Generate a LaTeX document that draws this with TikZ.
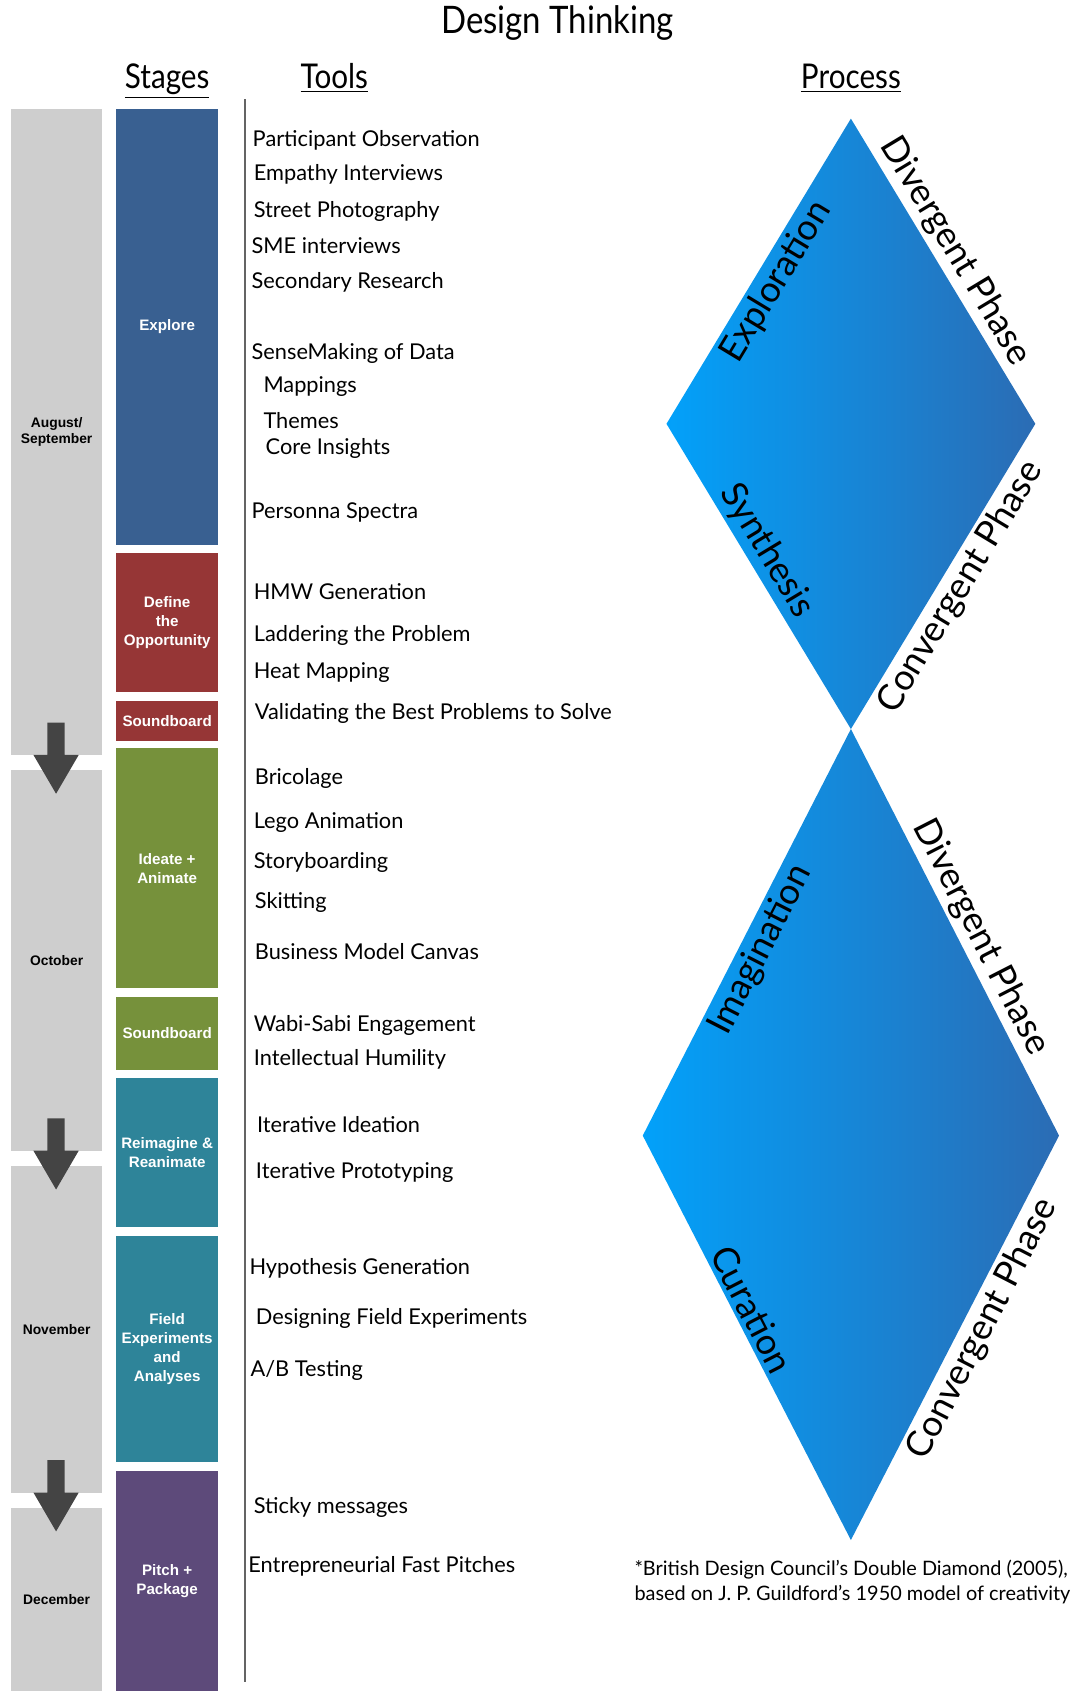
\documentclass[tikz,border=0pt]{standalone}
\usepackage{fontspec}
\setmainfont{Lato}
\newfontfamily\helv{Liberation Sans}
\usepackage{tikz}
\usetikzlibrary{positioning}

\definecolor{monthgray}{RGB}{206,206,206}
\definecolor{exploreblue}{RGB}{57,96,145}
\definecolor{definered}{RGB}{150,54,54}
\definecolor{ideategreen}{RGB}{118,145,59}
\definecolor{fieldteal}{RGB}{46,132,153}
\definecolor{pitchpurple}{RGB}{93,74,122}
\definecolor{arrowgray}{RGB}{68,68,68}
\definecolor{linegray}{RGB}{100,100,100}
\definecolor{diamondlight}{RGB}{2,161,250}
\definecolor{diamonddark}{RGB}{43,108,180}

\newcommand{\narrow}[1]{\scalebox{0.87}[1]{#1}}

\begin{document}
\begin{tikzpicture}
		[x=0.02cm, y=-0.02cm,
		month/.style={fill=monthgray, minimum width=1.7cm, inner sep=0pt, outer sep=0pt,
			align=center, font=\helv\bfseries\fontsize{7.3}{8.5}\selectfont},
		stage/.style={fill=#1, minimum width=1.88cm, inner sep=0pt, outer sep=0pt,
			align=center, text=white, font=\helv\bfseries\fontsize{8}{10.1}\selectfont},
		tool/.style={anchor=west, inner sep=0pt, yshift=-0.04cm, font=\fontsize{11.5}{13}\selectfont},
		header/.style={anchor=base, inner sep=0pt, font=\fontsize{18}{21}\selectfont},
		phase/.style={sloped, inner sep=2pt, font=\fontsize{19}{23}\selectfont},
		]
		\useasboundingbox (0,0) rectangle (995,1568);
		
		% titles
		\node[font=\fontsize{20}{24}\selectfont] (title) at (517,21) {\narrow{Design Thinking}};
		\node[header] (stages) at (155,82) {\narrow{\underline{Stages}}};
		\node[header] (tools) at (310,82) {\narrow{\underline{Tools}}};
		\node[header] (process) at (789,82) {\narrow{\underline{Process}}};
		
		% months
		\node[month, minimum height=11.98cm] (augsep) at (52.5,400.5) {August/\\September};
		\node[month, minimum height=7.06cm] (oct) at (52.5,890.5) {October};
		\node[month, minimum height=6.06cm] (nov) at (52.5,1232.5) {November};
		\node[month, minimum height=3.4cm] (dec) at (52.5,1483) {December};
		\foreach \yb in {700,1067,1384}
			\fill[arrowgray] (44,\yb-30) -- (60,\yb-30) -- (60,\yb) -- (73,\yb)
				-- (52,\yb+36) -- (31,\yb) -- (44,\yb) -- cycle;
		
		% stages
		\node[stage=exploreblue, minimum height=8.08cm] (explore) at (155,303) {Explore};
		\node[stage=definered, minimum height=2.58cm] (define) at (155,577.5) {Define\\the\\Opportunity};
		\node[stage=definered, minimum height=0.74cm] (sound1) at (155,668.5) {Soundboard};
		\node[stage=ideategreen, minimum height=4.44cm] (ideate) at (155,805) {Ideate +\\Animate};
		\node[stage=ideategreen, minimum height=1.36cm] (sound2) at (155,958) {Soundboard};
		\node[stage=fieldteal, minimum height=2.76cm] (reimagine) at (155,1069) {Reimagine \&\\Reanimate};
		\node[stage=fieldteal, minimum height=4.2cm] (field) at (155,1251) {Field\\Experiments\\and\\Analyses};
		\node[stage=pitchpurple, minimum height=4.08cm] (pitch) at (155,1466) {Pitch +\\Package};
		
		\draw[linegray, line width=0.9pt] (227,92) -- (227,1560);
		
		% tools
		\node[tool] (partobs) at (234,128) {Participant Observation};
		\node[tool] (empathy) at (235,160) {Empathy Interviews};
		\node[tool] (street) at (235,194) {Street Photography};
		\node[tool] (sme) at (233,226) {SME interviews};
		\node[tool] (secondary) at (233,260) {Secondary Research};
		\node[tool] (sensemaking) at (233,326) {SenseMaking of Data};
		\node[tool] (mappings) at (244,356) {Mappings};
		\node[tool] (themes) at (244,388) {Themes};
		\node[tool] (core) at (246,414) {Core Insights};
		\node[tool] (personna) at (233,473) {Personna Spectra};
		\node[tool] (hmw) at (235,547) {HMW Generation};
		\node[tool] (laddering) at (235,587) {Laddering the Problem};
		\node[tool] (heatmap) at (235,622) {Heat Mapping};
		\node[tool] (validating) at (236,660) {Validating the Best Problems to Solve};
		\node[tool] (bricolage) at (236,720) {Bricolage};
		\node[tool] (lego) at (235,761) {Lego Animation};
		\node[tool] (storyboard) at (235,798) {Storyboarding};
		\node[tool] (skitting) at (236,835) {Skitting};
		\node[tool] (bizmodel) at (236,880) {Business Model Canvas};
		\node[tool] (wabisabi) at (235,949) {Wabi-Sabi Engagement};
		\node[tool] (humility) at (235,980) {Intellectual Humility};
		\node[tool] (iterideation) at (238,1041) {Iterative Ideation};
		\node[tool] (iterproto) at (237,1085) {Iterative Prototyping};
		\node[tool] (hypothesis) at (231,1174) {Hypothesis Generation};
		\node[tool] (fieldexp) at (237,1221) {Designing Field Experiments};
		\node[tool] (abtest) at (232,1269) {A/B Testing};
		\node[tool] (sticky) at (235,1396) {Sticky messages};
		\node[tool] (pitches) at (230,1450) {Entrepreneurial Fast Pitches};
		
		% double diamond
		\coordinate (top1) at (789,110);
		\coordinate (left1) at (618,393);
		\coordinate (right1) at (960,393);
		\coordinate (bot1) at (789,676);
		\coordinate (left2) at (596,1053);
		\coordinate (right2) at (982,1053);
		\coordinate (bot2) at (789,1428);
		\shade[left color=diamondlight, right color=diamonddark] (top1) -- (right1) -- (bot1) -- (left1) -- cycle;
		\shade[left color=diamondlight, right color=diamonddark] (bot1) -- (right2) -- (bot2) -- (left2) -- cycle;
		
		\path (left1) -- (top1) node[phase, pos=0.5, below] (explo) {Exploration};
		\path (top1) -- (right1) node[phase, pos=0.47, above] (div1) {Divergent Phase};
		\path (left1) -- (bot1) node[phase, pos=0.45, above] (synth) {Synthesis};
		\path (bot1) -- (right1) node[phase, pos=0.5, below] (conv1) {Convergent Phase};
		\path (left2) -- (bot1) node[phase, pos=0.48, below] (imag) {Imagination};
		\path (bot1) -- (right2) node[phase, pos=0.535, above] (div2) {Divergent Phase};
		\path (left2) -- (bot2) node[phase, pos=0.45, above] (cur) {Curation};
		\path (bot2) -- (right2) node[phase, pos=0.545, below] (conv2) {Convergent Phase};
		
		\node[anchor=west, inner sep=0pt, align=left, font=\fontsize{10.5}{13.6}\selectfont] (note) at (588,1467)
			{*British Design Council’s Double Diamond (2005),\\based on J. P. Guildford’s 1950 model of creativity};
		
	\end{tikzpicture}
\end{document}
